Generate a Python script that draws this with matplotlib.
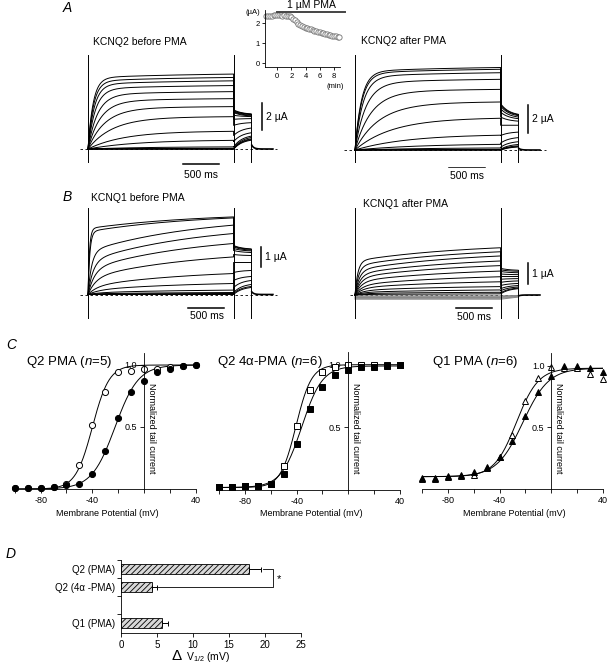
import numpy as np
import matplotlib
matplotlib.use('Agg')
import matplotlib.pyplot as plt

plt.rcParams['font.family'] = ['Liberation Sans', 'DejaVu Sans']
plt.rcParams['mathtext.fontset'] = 'custom'
plt.rcParams['mathtext.rm'] = 'Liberation Sans'
plt.rcParams['mathtext.it'] = 'Liberation Sans:italic'
plt.rcParams['axes.linewidth'] = 0.6
plt.rcParams['hatch.linewidth'] = 0.6

W, H = 608, 665

# ---------------- A: KCNQ2 currents (uA) ----------------
# amplitude at end of the 2 s step, activation tau (ms), tail start / end
q2_pre_amp = [5.55, 5.30, 5.05, 4.70, 4.25, 3.73, 3.14, 2.40, 1.33, 0.67, 0.17, 0.05, 0.02, 0.0, -0.02]
q2_pre_tau = [70, 75, 85, 100, 130, 170, 230, 330, 480, 650, 800, 800, 800, 800, 800]
q2_pre_tail0 = [2.90, 2.85, 2.80, 2.75, 2.70, 2.50, 2.20, 1.75, 1.00, 0.55, 0.15, 0.05, 0.02, 0.0, -0.02]
q2_pre_tail1 = [2.60, 2.58, 2.55, 2.50, 2.45, 2.40, 2.25, 1.95, 1.55, 1.20, 0.95, 0.85, 0.75, 0.70, 0.65]

q2_pma_amp = [6.00, 5.87, 5.62, 5.14, 4.41, 3.50, 2.35, 1.14, 0.46, 0.17, 0.05, 0.02, 0.0, -0.02]
q2_pma_tau = [90, 95, 110, 150, 220, 330, 500, 700, 900, 1000, 1000, 1000, 1000, 1000]
q2_pma_tail0 = [3.37, 3.30, 3.20, 3.00, 2.75, 2.40, 1.80, 1.05, 0.50, 0.20, 0.05, 0.02, 0.0, -0.02]
q2_pma_tail1 = [2.60, 2.56, 2.50, 2.40, 2.28, 2.10, 1.80, 1.30, 0.90, 0.60, 0.40, 0.30, 0.25, 0.22]

# inset: KCNQ2 current during PMA application
inset_min = [-1.5, -1.25, -1.0, -0.75, -0.5, -0.25, 0.0, 0.25, 0.5, 0.75, 1.0, 1.25, 1.5, 1.75,
             2.0, 2.25, 2.5, 2.75, 3.0, 3.25, 3.5, 3.75, 4.0, 4.25, 4.5, 4.75, 5.0, 5.25, 5.5,
             5.75, 6.0, 6.25, 6.5, 6.75, 7.0, 7.25, 7.5, 7.75, 8.0, 8.25, 8.5, 8.75]
inset_ua = [2.33, 2.35, 2.37, 2.36, 2.38, 2.40, 2.38, 2.40, 2.39, 2.37, 2.38, 2.36, 2.35, 2.33,
            2.30, 2.22, 2.13, 2.04, 1.96, 1.90, 1.85, 1.81, 1.77, 1.74, 1.71, 1.68, 1.65, 1.62,
            1.59, 1.56, 1.54, 1.51, 1.49, 1.46, 1.44, 1.42, 1.40, 1.37, 1.35, 1.33, 1.30, 1.28]
pma_on, pma_off = 0.0, 9.5

# ---------------- B: KCNQ1 currents (uA) ----------------
q1_pre_amp = [3.88, 3.83, 3.47, 3.05, 2.55, 1.88, 1.05, 0.55, 0.22, 0.10, 0.05, 0.02, 0.0]
q1_pre_fast = [0.85, 0.82, 0.62, 0.55, 0.50, 0.45, 0.40, 0.40, 0.40, 0.40, 0.40, 0.40, 0.40]
q1_pre_tau = [20, 25, 50, 70, 90, 110, 130, 150, 150, 150, 150, 150, 150]
q1_pre_tail0 = [2.45, 2.42, 2.38, 2.30, 2.20, 2.00, 1.60, 1.10, 0.70, 0.35, 0.10, 0.05, 0.0]
q1_pre_tail1 = [2.28, 2.26, 2.22, 2.18, 2.10, 1.95, 1.60, 1.20, 0.90, 0.70, 0.50, 0.40, 0.35]

q1_pma_amp = [2.25, 2.06, 1.86, 1.62, 1.40, 1.14, 0.87, 0.63, 0.40, 0.24, 0.13, 0.05]
q1_pma_fast = [0.72, 0.68, 0.64, 0.62, 0.60, 0.58, 0.55, 0.55, 0.55, 0.55, 0.55, 0.55]
q1_pma_tau = [40, 50, 60, 70, 80, 90, 100, 110, 120, 120, 120, 120]
q1_pma_tail0 = [1.27, 1.20, 1.12, 1.00, 0.88, 0.75, 0.60, 0.45, 0.30, 0.20, 0.10, 0.05]
q1_pma_tail1 = [1.18, 1.13, 1.06, 0.97, 0.88, 0.78, 0.67, 0.55, 0.45, 0.38, 0.33, 0.30]
q1_pma_leak = [-0.04, -0.08, -0.12, -0.16, -0.20]

# ---------------- C: normalized tail current vs voltage ----------------
volts = [-100, -90, -80, -70, -60, -50, -40, -30, -20, -10, 0, 10, 20, 30, 40]
q2_ctrl = [0.01, 0.01, 0.01, 0.02, 0.04, 0.19, 0.52, 0.78, 0.94, 0.95, 0.965, 0.97, 0.98, 0.99, 1.0]
q2_pma = [0.01, 0.01, 0.01, 0.02, 0.03, 0.04, 0.12, 0.31, 0.57, 0.78, 0.87, 0.94, 0.97, 0.99, 1.0]
q2a_ctrl = [0.02, 0.02, 0.03, 0.03, 0.05, 0.19, 0.51, 0.80, 0.94, 0.98, 1.0, 1.0, 1.0, 1.0, 1.0]
q2a_pma = [0.02, 0.02, 0.03, 0.03, 0.05, 0.13, 0.37, 0.65, 0.82, 0.92, 0.96, 0.98, 0.98, 0.99, 1.0]
q1_ctrl = [0.08, 0.08, 0.10, 0.105, 0.11, 0.17, 0.26, 0.44, 0.71, 0.90, 0.99, 0.98, 0.98, 0.93, 0.89]
q1_pma = [0.09, 0.09, 0.105, 0.11, 0.14, 0.18, 0.26, 0.39, 0.59, 0.79, 0.92, 1.0, 1.0, 0.98, 0.95]
# Boltzmann fits: (V1/2, slope, bottom, top) for control and drug
q2_fits = [(-40.0, 6.5, 0.0, 1.0), (-22.5, 9.0, 0.0, 1.0)]
q2a_fits = [(-40.5, 6.0, 0.02, 1.0), (-36.0, 8.0, 0.02, 0.99)]
q1_fits = [(-27.0, 8.5, 0.10, 0.98), (-22.0, 10.0, 0.10, 0.98)]

# ---------------- D: shift of V1/2 ----------------
d_labels = ['Q2 (PMA)', 'Q2 (4\u03b1 -PMA)', 'Q1 (PMA)']
d_shift = [17.8, 4.3, 5.7]
d_sem = [1.6, 0.75, 0.8]

fig = plt.figure(figsize=(W / 100, H / 100), dpi=100)


def fx(px):
    return px / W


def fy(py):
    return 1 - py / H


def box_ax(left, right, top, bottom):
    return fig.add_axes([left / W, 1 - bottom / H, (right - left) / W, (bottom - top) / H])


STEP, TAIL = 2000.0, 240.0
PPMS = 0.0728
TLIM = (-180, 2700)
t_on = np.linspace(0, STEP, 400)
t_tail = np.linspace(STEP, STEP + TAIL, 80)
t_post = np.linspace(STEP + TAIL + 10, STEP + TAIL + 300, 80)


def trace_ax(x0, y0, ppu, ylim):
    left = x0 + TLIM[0] * PPMS
    right = x0 + TLIM[1] * PPMS
    ax = box_ax(left, right, y0 - ylim[1] * ppu, y0 - ylim[0] * ppu)
    ax.set_xlim(TLIM)
    ax.set_ylim(ylim)
    ax.axis('off')
    return ax


def draw_family(ax, amp, fast, tau, tail0, tail1, slow_tau=1500.0, tail_tau=120.0, color='k', lw=0.7):
    for a, f, tf, b0, b1 in zip(amp, fast, tau, tail0, tail1):
        act = f * (1 - np.exp(-t_on / tf)) + (1 - f) * (1 - np.exp(-t_on / slow_tau)) / (1 - np.exp(-STEP / slow_tau))
        dt = t_tail - STEP
        tail = b0 + (b1 - b0) * (1 - np.exp(-dt / tail_tau)) / (1 - np.exp(-TAIL / tail_tau))
        ax.plot(np.r_[t_on, t_tail], np.r_[a * act, tail], color=color, lw=lw)


def frame(ax, top, bottom, tail_top, post_amp, base_from, base_to):
    ax.plot([0, 0], [bottom, top], color='k', lw=0.7)
    ax.plot([STEP, STEP], [bottom, top], color='k', lw=0.7)
    ax.plot([STEP + TAIL, STEP + TAIL], [bottom, tail_top], color='k', lw=0.7)
    ax.plot(t_post, post_amp * np.exp(-(t_post - t_post[0]) / 30.0), color='k', lw=1.2)
    ax.plot([base_from, base_to], [0, 0], color='k', lw=0.6, ls=(0, (3, 3)), zorder=0)


def scale_bars(ax, tx, ua, y_lo, t0, y_t, label_ua, fs=7.5):
    ax.plot([tx, tx], [y_lo, y_lo + ua], color='k', lw=1.1)
    ax.text(tx + 60, y_lo + ua / 2, label_ua, fontsize=fs, ha='left', va='center')
    ax.plot([t0, t0 + 500], [y_t, y_t], color='k', lw=1.1)


# ---- A left
ax = trace_ax(88, 149, 13.5, (-1.3, 7.2))
draw_family(ax, q2_pre_amp, [0.95] * len(q2_pre_amp), q2_pre_tau, q2_pre_tail0, q2_pre_tail1)
frame(ax, 6.96, -0.96, max(q2_pre_tail1), 0.28, -110, 2600)
scale_bars(ax, 2390, 2.0, 1.4, 1300, -1.11, '2 \u00b5A')
fig.text(fx(201), fy(175), '500 ms', fontsize=7.5, ha='center', va='center')
fig.text(fx(93), fy(42), 'KCNQ2 before PMA', fontsize=7.5, ha='left', va='center')

# ---- A right
ax = trace_ax(355, 150, 13.75, (-1.3, 7.2))
draw_family(ax, q2_pma_amp, [0.95] * len(q2_pma_amp), q2_pma_tau, q2_pma_tail0, q2_pma_tail1)
frame(ax, 6.9, -0.87, max(q2_pma_tail1), 0.12, -150, 2620)
scale_bars(ax, 2376, 2.0, 1.25, 1291, -1.31, '2 \u00b5A')
fig.text(fx(467), fy(176), '500 ms', fontsize=7.5, ha='center', va='center')
fig.text(fx(361), fy(41), 'KCNQ2 after PMA', fontsize=7.5, ha='left', va='center')

# ---- inset
ins = box_ax(265, 340, 10, 67)
ins.plot(inset_min, inset_ua, 'o', ms=3.8, mfc='white', mec='#777777', mew=0.6, clip_on=False)
ins.plot([pma_on, pma_off], [2.55, 2.55], color='#444444', lw=1.4, clip_on=False)
ins.set_xlim(-1.7, 8.84)
ins.set_ylim(-0.2, 2.65)
ins.set_xticks([0, 2, 4, 6, 8])
ins.set_yticks([0, 1, 2])
ins.spines[['top', 'right']].set_visible(False)
ins.tick_params(labelsize=5.5, length=2.5, width=0.6, pad=1.5)
fig.text(fx(253), fy(13), '(\u00b5A)', fontsize=5.5, ha='center', va='center')
fig.text(fx(335), fy(86), '(min)', fontsize=5.5, ha='center', va='center')
fig.text(fx(311), fy(5), '1 \u00b5M PMA', fontsize=7.5, ha='center', va='center')

# ---- B left
ax = trace_ax(88, 294.5, 20.0, (-1.3, 4.6))
draw_family(ax, q1_pre_amp, q1_pre_fast, q1_pre_tau, q1_pre_tail0, q1_pre_tail1)
frame(ax, 4.33, -1.18, max(q1_pre_tail1), 0.13, -110, 2600)
scale_bars(ax, 2376, 1.0, 1.37, 1373, -0.69, '1 \u00b5A')
fig.text(fx(207), fy(316), '500 ms', fontsize=7.5, ha='center', va='center')
fig.text(fx(91), fy(198), 'KCNQ1 before PMA', fontsize=7.5, ha='left', va='center')

# ---- B right
ax = trace_ax(355, 295, 21.0, (-1.3, 4.6))
for lk in q1_pma_leak:
    ax.plot([0, STEP, STEP + TAIL], [lk, lk, lk * 0.5], color='#888888', lw=0.7)
draw_family(ax, q1_pma_amp, q1_pma_fast, q1_pma_tau, q1_pma_tail0, q1_pma_tail1)
frame(ax, 4.14, -1.1, max(q1_pma_tail1), -0.04, -70, 2540)
scale_bars(ax, 2376, 1.0, 0.52, 1387, -0.6, '1 \u00b5A')
fig.text(fx(474), fy(317), '500 ms', fontsize=7.5, ha='center', va='center')
fig.text(fx(363), fy(204), 'KCNQ1 after PMA', fontsize=7.5, ha='left', va='center')


# ---------------- C ----------------
def boltz(v, vh, k, lo, hi):
    return lo + (hi - lo) / (1 + np.exp((vh - v) / k))


vfit = np.linspace(-100, 40, 300)
c_panels = [
    ((14.7, 196.0, 489.0, 365.0), q2_ctrl, q2_pma, q2_fits, 'o', 'Q2 PMA ($\\mathit{n}$=5)', 26),
    ((219.3, 399.7, 490.0, 364.7), q2a_ctrl, q2a_pma, q2a_fits, 's', 'Q2 4\u03b1-PMA ($\\mathit{n}$=6)', 217),
    ((422.0, 603.0, 489.0, 365.7), q1_ctrl, q1_pma, q1_fits, '^', 'Q1 PMA ($\\mathit{n}$=6)', 432),
]
for (xl, xr, y0, y1), ctrl, drug, fits, mk, title, tx in c_panels:
    ax = box_ax(xl, xr, y0 - 1.1 * (y0 - y1), y0)
    for p in fits:
        ax.plot(vfit, boltz(vfit, *p), color='k', lw=0.7, zorder=1)
    ax.plot(volts, ctrl, mk, ms=4.4, mfc='white', mec='k', mew=0.7, clip_on=False, zorder=2)
    ax.plot(volts, drug, mk, ms=4.4, mfc='k', mec='k', mew=0.7, clip_on=False, zorder=3)
    ax.set_xlim(-100, 40)
    ax.set_ylim(0, 1.1)
    ax.spines['left'].set_position(('data', 0))
    ax.spines[['top', 'right']].set_visible(False)
    ax.set_xticks([-100, -80, -60, -40, -20, 0, 20, 40])
    ax.set_xticklabels(['', '-80', '', '-40', '', '', '', '40'])
    ax.set_yticks([0.5, 1.0])
    ax.set_yticklabels(['0.5', '1.0'])
    ax.tick_params(labelsize=6.5, length=3, width=0.6, pad=2)
    ax.patch.set_visible(False)
    ax.text(2, 0.49, 'Normalized tail current', rotation=-90, fontsize=6.5, ha='left', va='center')
    fig.text(fx((xl + xr) / 2 + 2), fy(513), 'Membrane Potential (mV)', fontsize=6.5, ha='center', va='center')
    fig.text(fx(tx), fy(362), title, fontsize=9.5, ha='left', va='center')

# ---------------- D ----------------
axd = box_ax(121, 301, 560, 633)
ypos = [0, 1, 3]
axd.barh(ypos, d_shift, height=0.55, color='#d8d8d8', hatch='//////', edgecolor='k', lw=0.6,
         xerr=[[0] * len(d_sem), d_sem], error_kw=dict(elinewidth=0.7, capsize=1.8, capthick=0.7))
axd.plot([19.7, 21.05, 21.05, 5.15], [0, 0, 1, 1], color='k', lw=0.6)
axd.text(21.7, 0.55, '*', fontsize=8, ha='left', va='center')
axd.set_xlim(0, 25)
axd.set_ylim(3.55, -0.5)
axd.set_yticks(ypos)
axd.set_yticklabels(d_labels)
axd.set_yticks([-0.5, 0.5, 1.5, 2.5], minor=True)
axd.set_xticks([0, 5, 10, 15, 20, 25])
axd.spines[['top', 'right']].set_visible(False)
axd.tick_params(axis='y', which='major', length=0, labelsize=7, pad=4)
axd.tick_params(axis='y', which='minor', length=3, width=0.6)
axd.tick_params(axis='x', labelsize=7, length=3, width=0.6, pad=2)
fig.text(fx(177), fy(656), '\u0394', fontsize=11, ha='center', va='center')
fig.text(fx(186), fy(657), 'V$_{1/2}$ (mV)', fontsize=7.5, ha='left', va='center')

# panel letters
for s, (x, y) in zip('ABCD', [(63, 8), (63, 197), (6, 345), (6, 554)]):
    fig.text(fx(x), fy(y), s, fontsize=10, style='italic', ha='left', va='center')

fig.savefig('out.png', dpi=100)
